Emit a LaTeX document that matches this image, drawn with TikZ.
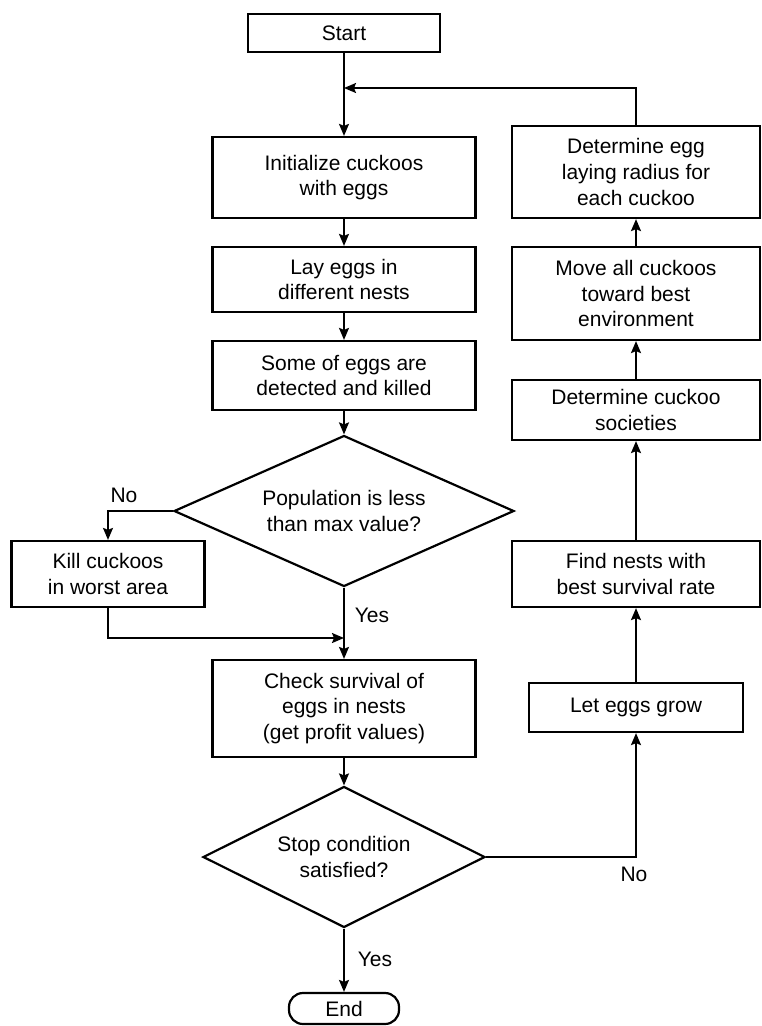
\documentclass[tikz,border=0pt]{standalone}
\usepackage{fontspec}
\setmainfont{Liberation Sans}
\usetikzlibrary{positioning, arrows.meta, shapes.geometric}
\tikzset{
    cukbox/.style={draw=black, line width=2.2pt, fill=white,
                minimum width=#1, inner sep=0pt, align=center,
                font=\fontsize{21}{25.7}\selectfont},
    cukbox/.default=263pt,
    cukdec/.style={draw=black, line width=2.2pt, shape=diamond, inner sep=0pt,
                align=center, font=\fontsize{21}{25.7}\selectfont},
    cukterm/.style={draw=black, line width=2.2pt, rounded corners=14pt,
                minimum width=110pt, minimum height=31pt, inner sep=0pt,
                font=\fontsize{21}{25.7}\selectfont},
    cukarr/.style={-{Stealth[length=12pt, width=10pt, inset=2pt]}, line width=1.8pt},
    cuklbl/.style={font=\fontsize{21}{25.7}\selectfont},
}
\begin{document}
\begin{tikzpicture}[x=1pt, y=-1pt]

    \useasboundingbox (0,0) rectangle (761,1026);

    % main column
    \node[cukbox=192pt, minimum height=38pt] (start) at (344, 33) {Start};
    \node[cukbox, minimum height=81pt] (init) at (344, 177.5) {Initialize cuckoos\\with eggs};
    \node[cukbox, minimum height=65pt] (lay) at (344, 279.5) {Lay eggs in\\different nests};
    \node[cukbox, minimum height=69pt] (detect) at (344, 375.5) {Some of eggs are\\detected and killed};
    \node[cukdec, aspect=2.25, minimum width=340pt, minimum height=151pt] (popq) at (344, 511) {Population is less\\than max value?};
    \node[cukbox=193pt, minimum height=66pt] (worst) at (108, 574) {Kill cuckoos\\in worst area};
    \node[cukbox, minimum height=97pt] (check) at (344, 708.5) {Check survival of\\eggs in nests\\(get profit values)};
    \node[cukdec, aspect=2, minimum width=282pt, minimum height=141pt] (stopq) at (344, 857) {Stop condition\\satisfied?};
    \node[cukterm] (finish) at (344, 1008.5) {End};

    % right column
    \node[cukbox=248pt, minimum height=92pt] (radius) at (636, 172) {Determine egg\\laying radius for\\each cuckoo};
    \node[cukbox=248pt, minimum height=93pt] (move) at (636, 293.5) {Move all cuckoos\\toward best\\environment};
    \node[cukbox=248pt, minimum height=60pt] (society) at (636, 410) {Determine cuckoo\\societies};
    \node[cukbox=248pt, minimum height=66pt] (nests) at (636, 574) {Find nests with\\best survival rate};
    \node[cukbox=214pt, minimum height=49pt] (grow) at (636, 707.5) {Let eggs grow};

    \coordinate (back) at (344, 88);
    \coordinate (merge) at (344, 638);

    \draw[cukarr] (start) -- (init);
    \draw[cukarr] (radius.north) |- (back);
    \draw[cukarr] (init) -- (lay);
    \draw[cukarr] (lay) -- (detect);
    \draw[cukarr] (detect) -- (popq);
    \draw[cukarr] (popq.west) -| (worst.north);
    \draw[cukarr] (popq.south) -- (check.north);
    \draw[cukarr] (worst.south) |- (merge);
    \draw[cukarr] (check) -- (stopq);
    \draw[cukarr] (stopq.south) -- (finish.north);
    \draw[cukarr] (stopq.east) -| (grow.south);
    \draw[cukarr] (grow) -- (nests);
    \draw[cukarr] (nests) -- (society);
    \draw[cukarr] (society) -- (move);
    \draw[cukarr] (move) -- (radius);

    \node[cuklbl] (no1) at (124, 495) {No};
    \node[cuklbl] (yes1) at (372, 615) {Yes};
    \node[cuklbl] (yes2) at (375, 959) {Yes};
    \node[cuklbl] (no2) at (634, 874) {No};

\end{tikzpicture}
\end{document}
